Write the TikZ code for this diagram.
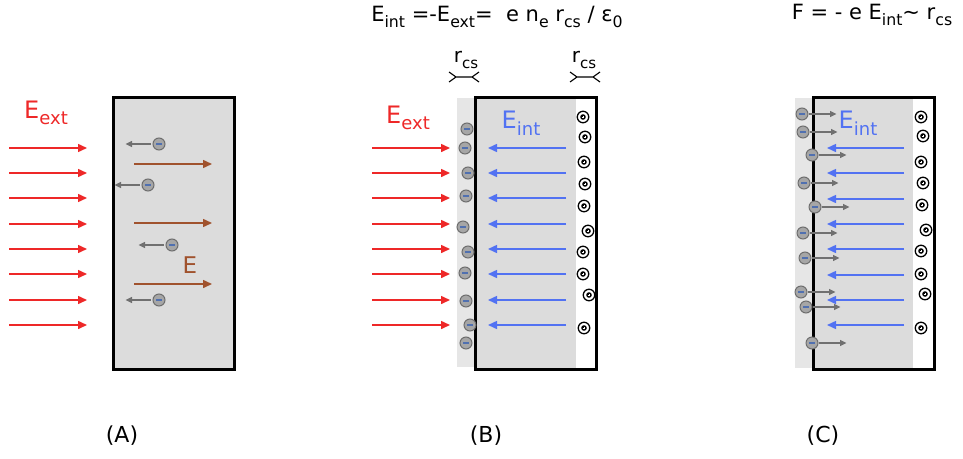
\documentclass[tikz,border=0pt]{standalone}
\usepackage{fontspec}
\setmainfont{DejaVu Sans}
\usetikzlibrary{arrows.meta}
\definecolor{ered}{HTML}{EE2828}
\definecolor{eblue}{HTML}{5272F2}
\definecolor{ebrown}{HTML}{A0522D}
\definecolor{boxgray}{HTML}{DCDCDC}
\definecolor{stripgray}{HTML}{E6E6E6}
\definecolor{elfill}{HTML}{A6A6A6}
\definecolor{eledge}{HTML}{6E6E6E}
\definecolor{elminus}{HTML}{5070B0}
\definecolor{garrow}{HTML}{707070}
\newcommand\sbs[1]{\raisebox{-0.28em}{\scalebox{0.75}{#1}}}
\tikzset{
  fieldred/.style={draw=ered, line width=1.5pt, -{Triangle[length=9pt,width=8pt]}},
  fieldblue/.style={draw=eblue, line width=1.5pt, -{Triangle[length=9pt,width=8pt]}},
  fieldbrown/.style={draw=ebrown, line width=1.5pt, -{Triangle[length=9pt,width=8pt]}},
  push/.style={draw=garrow, line width=1.2pt, -{Triangle[length=6.5pt,width=6pt]}},
  slab/.style={draw=black, line width=3pt},
  electron/.style={circle, minimum size=12pt, inner sep=0pt, fill=elfill, draw=eledge, line width=1pt,
    path picture={\draw[elminus, line width=1.3pt] ([xshift=-3pt]path picture bounding box.center) -- ([xshift=3pt]path picture bounding box.center);}},
  positive/.style={circle, minimum size=11.5pt, inner sep=0pt, fill=white, draw=black, line width=1.3pt,
    path picture={\fill[black] (path picture bounding box.center) circle (2.8pt);
      \draw[white, line width=0.5pt] ([xshift=-1.3pt]path picture bounding box.center) -- ([xshift=1.3pt]path picture bounding box.center)
        ([yshift=-1.3pt]path picture bounding box.center) -- ([yshift=1.3pt]path picture bounding box.center);}},
  lbl/.style={inner sep=0pt, font=\fontsize{24}{28}\selectfont},
  eq/.style={inner sep=0pt, font=\fontsize{21}{25}\selectfont},
  rcs/.style={inner sep=0pt, font=\fontsize{20}{24}\selectfont},
  panelcap/.style={inner sep=0pt, font=\fontsize{22}{26}\selectfont},
  rcsmark/.pic={\draw[line width=1.1pt] (-15,-5) -- (-8,0) -- (-15,5) (-8,0) -- (8,0) (15,-5) -- (8,0) -- (15,5);}
}
\begin{document}
\begin{tikzpicture}[x=1pt, y=-1pt]
\useasboundingbox[fill=white] (0,0) rectangle (963,458);

% ---------------- Panel A ----------------
\fill[boxgray] (113.5,97.5) rectangle (234.5,369.5);
\draw[slab] (113.5,97.5) rectangle (234.5,369.5);
\foreach \y in {148,173,198,224,249,274,300,325}
  \draw[fieldred] (9,\y) -- (87,\y);
\foreach \y in {164,223,284}
  \draw[fieldbrown] (134,\y) -- (212,\y);
\node[lbl, text=ered] (extA) at (46,113) {E\sbs{ext}};
\node[inner sep=0pt, font=\fontsize{23}{27}\selectfont, text=ebrown] (EA) at (190,265) {E};
\node[electron] (a1) at (159,144) {};
\node[electron] (a2) at (148,185) {};
\node[electron] (a3) at (172,245) {};
\node[electron] (a4) at (159,300) {};
\foreach \n in {a1,a2,a3,a4}
  \draw[push, shorten <=2pt] (\n.west) -- ++(-27,0);
\node[panelcap] (capA) at (122,436) {(A)};

% ---------------- Panel B ----------------
\node[eq] (eqB) at (497,17) {E\sbs{int} =-E\sbs{ext}= \ e n\sbs{e} r\sbs{cs} / ε\sbs{0}};
\node[rcs] (rcs1) at (466,60) {r\sbs{cs}};
\node[rcs] (rcs2) at (584,60) {r\sbs{cs}};
\pic at (464,77) {rcsmark};
\pic at (585,77) {rcsmark};
\fill[stripgray] (457,98) rectangle (475,367);
\fill[boxgray] (475.5,97.5) rectangle (576,369.5);
\draw[slab] (475.5,97.5) rectangle (596.5,369.5);
\foreach \y in {148,173,198,224,249,274,300,325}{
  \draw[fieldred] (372,\y) -- (450,\y);
  \draw[fieldblue] (566,\y) -- (488,\y);
}
\node[lbl, text=ered] (extB) at (408,118) {E\sbs{ext}};
\node[lbl, text=eblue] (intB) at (521,123) {E\sbs{int}};
\foreach \x/\y [count=\i] in {467/129,465/148,468/173,466/196,463/227,468/252,465/273,466/301,470/325,466/343}
  \node[electron] (b\i) at (\x,\y) {};
\foreach \x/\y [count=\i] in {583/117,585/137,584/162,585/184,584/206,588/231,583/252,583/274,589/295,584/328}
  \node[positive] (p\i) at (\x,\y) {};
\node[panelcap] (capB) at (486,436) {(B)};

% ---------------- Panel C ----------------
\node[eq] (eqC) at (872,15) {F = - e E\sbs{int}\textasciitilde\ r\sbs{cs}};
\fill[stripgray] (795,98) rectangle (813,368);
\fill[boxgray] (813.5,97.5) rectangle (913,369.5);
\draw[slab] (813.5,97.5) rectangle (934.5,369.5);
\foreach \y in {148,173,199,224,249,275,300,325}
  \draw[fieldblue] (904,\y) -- (827,\y);
\node[lbl, text=eblue] (intC) at (858,123) {E\sbs{int}};
\foreach \x/\y [count=\i] in {802/114,803/132,812/155,804/183,815/207,803/233,805/258,801/292,806/307,812/343}{
  \node[electron] (c\i) at (\x,\y) {};
  \draw[push] (c\i.east) -- ++(28,0);
}
\foreach \x/\y [count=\i] in {921/117,923/136,921/162,923/183,922/205,926/230,921/251,921/274,925/294,921/328}
  \node[positive] (q\i) at (\x,\y) {};
\node[panelcap] (capC) at (823,436) {(C)};
\end{tikzpicture}
\end{document}
